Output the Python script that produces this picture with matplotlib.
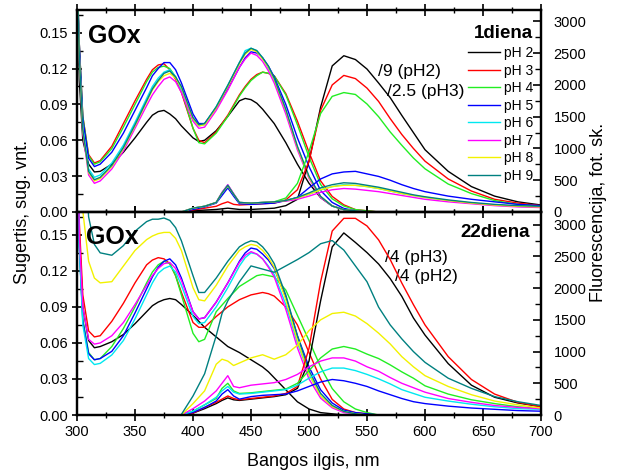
import matplotlib
matplotlib.use("Agg")
import matplotlib.pyplot as plt
from matplotlib.ticker import MultipleLocator, FormatStrFormatter

plt.rcParams["font.family"] = ["Liberation Sans", "DejaVu Sans"]

# ---------------------- DATA ---------------------- #

PH_LABELS = ["pH 2", "pH 3", "pH 4", "pH 5", "pH 6", "pH 7", "pH 8", "pH 9"]
COLORS = ["black", "#ff0000", "#22ee22", "#0000ff", "#00e8f0", "#ff00ff", "#f2f200", "#008080"]

# absorption wavelengths (nm)
ABS_WL = [300, 302, 305, 310, 315, 320, 330, 340, 350, 360,
          365, 370, 375, 380, 385, 390, 400, 405, 410, 420,
          430, 440, 445, 450, 455, 460, 465, 470, 480, 490,
          500, 510, 520, 530, 540, 550, 560, 580, 600, 700]

# fluorescence wavelengths (nm)
FL_WL = [390, 400, 410, 420, 425, 430, 435, 440, 450, 460, 470, 480, 490, 500, 510,
         520, 530, 540, 550, 560, 570, 580, 590, 600, 620, 640, 660, 680, 700]

# --- day 1, absorption ---
abs1_ph2 = [0.20, 0.11, 0.060, 0.040, 0.0335, 0.034, 0.040, 0.050, 0.062, 0.075,
            0.081, 0.084, 0.085, 0.082, 0.078, 0.072, 0.062, 0.059, 0.060, 0.068,
            0.080, 0.093, 0.095, 0.094, 0.091, 0.086, 0.080, 0.074, 0.058, 0.040,
            0.024, 0.012, 0.005, 0.002, 0.001, 0.0, 0.0, 0.0, 0.0, 0.0]
abs1_ph3 = [0.20, 0.14, 0.080, 0.048, 0.041, 0.043, 0.055, 0.074, 0.093, 0.111,
            0.119, 0.123, 0.124, 0.119, 0.111, 0.100, 0.070, 0.060, 0.058, 0.067,
            0.081, 0.098, 0.105, 0.111, 0.115, 0.117, 0.116, 0.114, 0.099, 0.076,
            0.050, 0.026, 0.013, 0.006, 0.002, 0.001, 0.0, 0.0, 0.0, 0.0]
abs1_ph4 = [0.20, 0.14, 0.080, 0.047, 0.040, 0.042, 0.053, 0.071, 0.090, 0.109,
            0.117, 0.121, 0.122, 0.120, 0.113, 0.102, 0.070, 0.058, 0.057, 0.066,
            0.080, 0.097, 0.104, 0.110, 0.114, 0.117, 0.116, 0.114, 0.098, 0.073,
            0.046, 0.023, 0.011, 0.005, 0.002, 0.001, 0.0, 0.0, 0.0, 0.0]
abs1_ph5 = [0.20, 0.14, 0.078, 0.045, 0.038, 0.040, 0.050, 0.066, 0.085, 0.104,
            0.114, 0.120, 0.125, 0.125, 0.119, 0.108, 0.082, 0.074, 0.074, 0.087,
            0.103, 0.121, 0.129, 0.134, 0.133, 0.129, 0.122, 0.113, 0.090, 0.062,
            0.038, 0.018, 0.008, 0.003, 0.001, 0.0, 0.0, 0.0, 0.0, 0.0]
abs1_ph6 = [0.20, 0.13, 0.070, 0.036, 0.029, 0.031, 0.041, 0.056, 0.075, 0.095,
            0.105, 0.112, 0.117, 0.119, 0.113, 0.102, 0.077, 0.072, 0.073, 0.088,
            0.106, 0.125, 0.135, 0.137, 0.135, 0.129, 0.120, 0.110, 0.084, 0.054,
            0.029, 0.013, 0.005, 0.002, 0.001, 0.0, 0.0, 0.0, 0.0, 0.0]
abs1_ph7 = [0.20, 0.13, 0.066, 0.031, 0.024, 0.026, 0.036, 0.051, 0.070, 0.089,
            0.098, 0.105, 0.111, 0.113, 0.109, 0.100, 0.076, 0.070, 0.071, 0.085,
            0.102, 0.121, 0.128, 0.133, 0.131, 0.126, 0.118, 0.108, 0.082, 0.052,
            0.028, 0.012, 0.005, 0.002, 0.001, 0.0, 0.0, 0.0, 0.0, 0.0]
abs1_ph8 = [0.20, 0.13, 0.068, 0.033, 0.026, 0.028, 0.038, 0.053, 0.072, 0.092,
            0.102, 0.109, 0.114, 0.116, 0.112, 0.104, 0.078, 0.072, 0.073, 0.087,
            0.105, 0.124, 0.132, 0.136, 0.134, 0.128, 0.121, 0.111, 0.085, 0.054,
            0.029, 0.013, 0.005, 0.002, 0.001, 0.0, 0.0, 0.0, 0.0, 0.0]
abs1_ph9 = [0.20, 0.13, 0.069, 0.034, 0.027, 0.029, 0.039, 0.054, 0.073, 0.093,
            0.103, 0.110, 0.116, 0.118, 0.113, 0.105, 0.079, 0.073, 0.074, 0.088,
            0.106, 0.125, 0.133, 0.137, 0.135, 0.129, 0.122, 0.112, 0.086, 0.055,
            0.030, 0.013, 0.005, 0.002, 0.001, 0.0, 0.0, 0.0, 0.0, 0.0]

# --- day 1, fluorescence (pH2 divided by 9, pH3 by 2.5) ---
fl1_ph2 = [0, 20, 30, 40, 50, 60, 50, 40, 40, 50, 60, 100, 200, 800, 1650, 2300, 2460, 2400, 2250, 2030,
           1800, 1520, 1250, 980, 640, 400, 250, 160, 110]
fl1_ph3 = [0, 30, 60, 90, 130, 160, 120, 110, 120, 130, 140, 190, 350, 800, 1600, 2000, 2150, 2100, 1950, 1740,
           1470, 1220, 1000, 800, 520, 330, 200, 140, 100]
fl1_ph4 = [0, 60, 90, 150, 300, 420, 280, 150, 140, 150, 160, 220, 450, 950, 1550, 1820, 1880, 1850, 1700, 1500,
           1260, 1050, 850, 680, 440, 290, 180, 120, 90]
fl1_ph5 = [0, 40, 80, 140, 260, 380, 250, 130, 120, 130, 140, 180, 230, 380, 520, 600, 630, 640, 600, 560,
           500, 430, 370, 320, 250, 200, 160, 120, 100]
fl1_ph6 = [0, 60, 90, 150, 300, 420, 280, 150, 140, 150, 160, 180, 220, 280, 350, 400, 430, 420, 400, 370,
           330, 290, 260, 230, 180, 140, 110, 90, 80]
fl1_ph7 = [0, 60, 90, 150, 310, 430, 290, 150, 140, 150, 160, 170, 200, 250, 310, 350, 370, 360, 340, 320,
           290, 260, 230, 200, 160, 130, 100, 80, 70]
fl1_ph8 = [0, 60, 90, 150, 300, 410, 280, 150, 140, 150, 160, 180, 220, 280, 350, 400, 420, 420, 400, 370,
           330, 290, 260, 230, 180, 140, 110, 90, 80]
fl1_ph9 = [0, 60, 90, 150, 300, 420, 280, 150, 140, 150, 160, 180, 230, 300, 380, 430, 460, 450, 420, 390,
           350, 310, 270, 240, 190, 150, 120, 100, 90]

# --- day 22, absorption ---
abs22_ph2 = [0.25, 0.15, 0.090, 0.062, 0.056, 0.057, 0.061, 0.067, 0.076, 0.086,
             0.091, 0.094, 0.096, 0.097, 0.096, 0.092, 0.083, 0.078, 0.073, 0.065,
             0.057, 0.052, 0.049, 0.046, 0.043, 0.040, 0.036, 0.031, 0.021, 0.011,
             0.005, 0.002, 0.001, 0.0, 0.0, 0.0, 0.0, 0.0, 0.0, 0.0]
abs22_ph3 = [0.25, 0.16, 0.100, 0.070, 0.065, 0.066, 0.078, 0.093, 0.110, 0.125,
             0.129, 0.131, 0.130, 0.126, 0.116, 0.102, 0.077, 0.073, 0.073, 0.082,
             0.090, 0.096, 0.098, 0.100, 0.101, 0.102, 0.101, 0.099, 0.090, 0.075,
             0.052, 0.030, 0.013, 0.005, 0.002, 0.001, 0.0, 0.0, 0.0, 0.0]
abs22_ph4 = [0.25, 0.14, 0.080, 0.052, 0.046, 0.047, 0.057, 0.072, 0.090, 0.110,
             0.119, 0.125, 0.128, 0.126, 0.116, 0.100, 0.068, 0.061, 0.063, 0.086,
             0.097, 0.107, 0.110, 0.113, 0.116, 0.117, 0.116, 0.115, 0.104, 0.083,
             0.062, 0.040, 0.022, 0.011, 0.005, 0.002, 0.0, 0.0, 0.0, 0.0]
abs22_ph5 = [0.25, 0.14, 0.078, 0.051, 0.046, 0.047, 0.053, 0.066, 0.085, 0.105,
             0.115, 0.123, 0.128, 0.130, 0.125, 0.114, 0.086, 0.080, 0.081, 0.094,
             0.110, 0.128, 0.135, 0.139, 0.138, 0.134, 0.129, 0.122, 0.098, 0.066,
             0.040, 0.021, 0.010, 0.004, 0.002, 0.001, 0.0, 0.0, 0.0, 0.0]
abs22_ph6 = [0.25, 0.14, 0.075, 0.047, 0.042, 0.043, 0.050, 0.062, 0.080, 0.100,
             0.110, 0.118, 0.122, 0.124, 0.119, 0.108, 0.082, 0.076, 0.077, 0.090,
             0.106, 0.124, 0.131, 0.135, 0.134, 0.130, 0.124, 0.117, 0.092, 0.060,
             0.034, 0.016, 0.007, 0.003, 0.001, 0.0, 0.0, 0.0, 0.0, 0.0]
abs22_ph7 = [0.25, 0.15, 0.090, 0.063, 0.059, 0.060, 0.066, 0.077, 0.092, 0.108,
             0.116, 0.122, 0.126, 0.127, 0.122, 0.112, 0.086, 0.080, 0.081, 0.094,
             0.110, 0.127, 0.133, 0.136, 0.134, 0.130, 0.123, 0.115, 0.088, 0.056,
             0.030, 0.014, 0.006, 0.002, 0.001, 0.0, 0.0, 0.0, 0.0, 0.0]
abs22_ph8 = [0.30, 0.25, 0.170, 0.128, 0.114, 0.110, 0.111, 0.124, 0.137, 0.146,
             0.149, 0.151, 0.152, 0.152, 0.147, 0.137, 0.106, 0.096, 0.095, 0.108,
             0.124, 0.137, 0.140, 0.142, 0.141, 0.137, 0.131, 0.123, 0.096, 0.062,
             0.034, 0.016, 0.007, 0.003, 0.001, 0.0, 0.0, 0.0, 0.0, 0.0]
abs22_ph9 = [0.35, 0.30, 0.250, 0.165, 0.142, 0.135, 0.133, 0.141, 0.153, 0.161,
             0.163, 0.163, 0.164, 0.162, 0.156, 0.145, 0.116, 0.102, 0.102, 0.114,
             0.128, 0.140, 0.143, 0.145, 0.144, 0.140, 0.134, 0.126, 0.100, 0.066,
             0.037, 0.018, 0.008, 0.003, 0.001, 0.0, 0.0, 0.0, 0.0, 0.0]

# --- day 22, fluorescence (pH2 and pH3 divided by 4) ---
fl22_ph2 = [0, 30, 100, 180, 230, 270, 240, 230, 250, 270, 290, 320, 420, 850, 1800, 2650, 2870, 2720, 2560, 2380,
            2150, 1870, 1530, 1260, 810, 470, 280, 190, 130]
fl22_ph3 = [0, 30, 120, 200, 250, 300, 260, 240, 260, 280, 300, 340, 450, 1050, 2100, 2900, 3100, 3100, 2980, 2760,
            2450, 2080, 1740, 1420, 920, 560, 330, 200, 130]
fl22_ph4 = [0, 60, 160, 260, 420, 500, 380, 340, 350, 370, 390, 410, 500, 700, 900, 1040, 1080, 1040, 960, 890,
            790, 680, 580, 460, 330, 240, 180, 130, 100]
fl22_ph5 = [0, 40, 120, 220, 330, 400, 300, 250, 290, 310, 320, 330, 380, 450, 520, 560, 540, 500, 450, 380,
            320, 260, 210, 180, 140, 110, 90, 70, 60]
fl22_ph6 = [0, 60, 160, 280, 380, 450, 360, 330, 340, 360, 380, 400, 470, 580, 680, 740, 740, 700, 640, 570,
            490, 400, 340, 280, 220, 170, 130, 100, 90]
fl22_ph7 = [0, 100, 220, 380, 500, 620, 450, 430, 470, 490, 510, 560, 640, 760, 850, 900, 900, 850, 760, 690,
            590, 500, 430, 360, 260, 200, 150, 120, 100]
fl22_ph8 = [0, 180, 380, 800, 880, 850, 780, 820, 900, 950, 880, 950, 1100, 1330, 1500, 1600, 1620, 1560, 1440, 1290,
            1120, 920, 760, 620, 450, 320, 220, 160, 110]
fl22_ph9 = [10, 300, 650, 1250, 1600, 1800, 1950, 2100, 2350, 2300, 2250, 2350, 2450, 2560, 2700, 2750, 2600, 2350, 2100, 1700,
            1420, 1200, 1000, 830, 580, 420, 290, 210, 150]

ABS_DAY1 = [abs1_ph2, abs1_ph3, abs1_ph4, abs1_ph5, abs1_ph6, abs1_ph7, abs1_ph8, abs1_ph9]
FL_DAY1 = [fl1_ph2, fl1_ph3, fl1_ph4, fl1_ph5, fl1_ph6, fl1_ph7, fl1_ph8, fl1_ph9]
ABS_DAY22 = [abs22_ph2, abs22_ph3, abs22_ph4, abs22_ph5, abs22_ph6, abs22_ph7, abs22_ph8, abs22_ph9]
FL_DAY22 = [fl22_ph2, fl22_ph3, fl22_ph4, fl22_ph5, fl22_ph6, fl22_ph7, fl22_ph8, fl22_ph9]

# ---------------------- PLOTTING ---------------------- #

def style_axes(ax, axr, fl_top):
    """Limits, ticks and spines for one absorption/fluorescence panel."""
    ax.set_xlim(300, 700)
    ax.set_ylim(0, 0.169)
    axr.set_ylim(0, fl_top)

    ax.xaxis.set_major_locator(MultipleLocator(50))
    ax.xaxis.set_minor_locator(MultipleLocator(25))
    ax.yaxis.set_major_locator(MultipleLocator(0.03))
    ax.yaxis.set_minor_locator(MultipleLocator(0.015))
    ax.yaxis.set_major_formatter(FormatStrFormatter("%.2f"))
    axr.yaxis.set_major_locator(MultipleLocator(500))
    axr.yaxis.set_minor_locator(MultipleLocator(250))

    ax.tick_params(axis="x", which="major", direction="inout", length=8, width=1.2, top=True, labelsize=10.5, pad=3)
    ax.tick_params(axis="x", which="minor", direction="inout", length=5, width=1, top=True)
    ax.tick_params(axis="y", which="major", direction="inout", length=7, width=1.2, labelsize=10.5, pad=3)
    ax.tick_params(axis="y", which="minor", direction="in", length=4, width=1)
    axr.tick_params(axis="y", which="major", direction="in", length=6, width=1.2, labelsize=10.5, pad=9)
    axr.tick_params(axis="y", which="minor", direction="in", length=4, width=1)

    for a in (ax, axr):
        for sp in a.spines.values():
            sp.set_linewidth(1.6)


def draw_panel(ax, abs_curves, fl_curves, fl_top):
    """Absorption on the left axis, fluorescence on the right axis."""
    lines = []
    for curve, color in zip(abs_curves, COLORS):
        ln, = ax.plot(ABS_WL, curve, color=color, lw=1.0)
        lines.append(ln)
    axr = ax.twinx()
    for curve, color in zip(fl_curves, COLORS):
        axr.plot(FL_WL, curve, color=color, lw=1.0)
    style_axes(ax, axr, fl_top)
    return lines


fig = plt.figure(figsize=(6.2, 4.73), dpi=100)
ax_top = fig.add_axes([0.1242, 0.5518, 0.7484, 0.4271])
ax_bot = fig.add_axes([0.1242, 0.1226, 0.7484, 0.4292])

handles = draw_panel(ax_top, ABS_DAY1, FL_DAY1, 3180)
draw_panel(ax_bot, ABS_DAY22, FL_DAY22, 3200)
ax_top.tick_params(axis="x", labelbottom=False)

# panel texts
ax_top.text(0.024, 0.871, "GOx", transform=ax_top.transAxes, fontsize=18, fontweight="bold", va="center")
ax_bot.text(0.020, 0.877, "GOx", transform=ax_bot.transAxes, fontsize=18, fontweight="bold", va="center")
ax_top.text(0.983, 0.886, "1diena", transform=ax_top.transAxes, fontsize=13.5, fontweight="bold",
            ha="right", va="center")
ax_bot.text(0.976, 0.901, "22diena", transform=ax_bot.transAxes, fontsize=13.5, fontweight="bold",
            ha="right", va="center")
ax_top.text(0.649, 0.693, "/9 (pH2)", transform=ax_top.transAxes, fontsize=12.5, va="center")
ax_top.text(0.668, 0.594, "/2.5 (pH3)", transform=ax_top.transAxes, fontsize=12.5, va="center")
ax_bot.text(0.664, 0.778, "/4 (pH3)", transform=ax_bot.transAxes, fontsize=12.5, va="center")
ax_bot.text(0.685, 0.680, "/4 (pH2)", transform=ax_bot.transAxes, fontsize=12.5, va="center")

leg = ax_top.legend(handles, PH_LABELS, loc="upper right", bbox_to_anchor=(0.983, 0.82),
                    frameon=False, fontsize=10, handlelength=2.3, handletextpad=0.25,
                    labelspacing=0.25, borderpad=0, borderaxespad=0)
leg.set_zorder(20)

# axis titles
fig.text(0.505, 0.0233, "Bangos ilgis, nm", fontsize=13, ha="center", va="center")
fig.text(0.036, 0.5518, "Sugertis, sug. vnt.", fontsize=13, rotation=90, ha="center", va="center")
fig.text(0.965, 0.5518, "Fluorescencija, fot. sk.", fontsize=13, rotation=90, ha="center", va="center")

fig.savefig("out.png", dpi=100)
